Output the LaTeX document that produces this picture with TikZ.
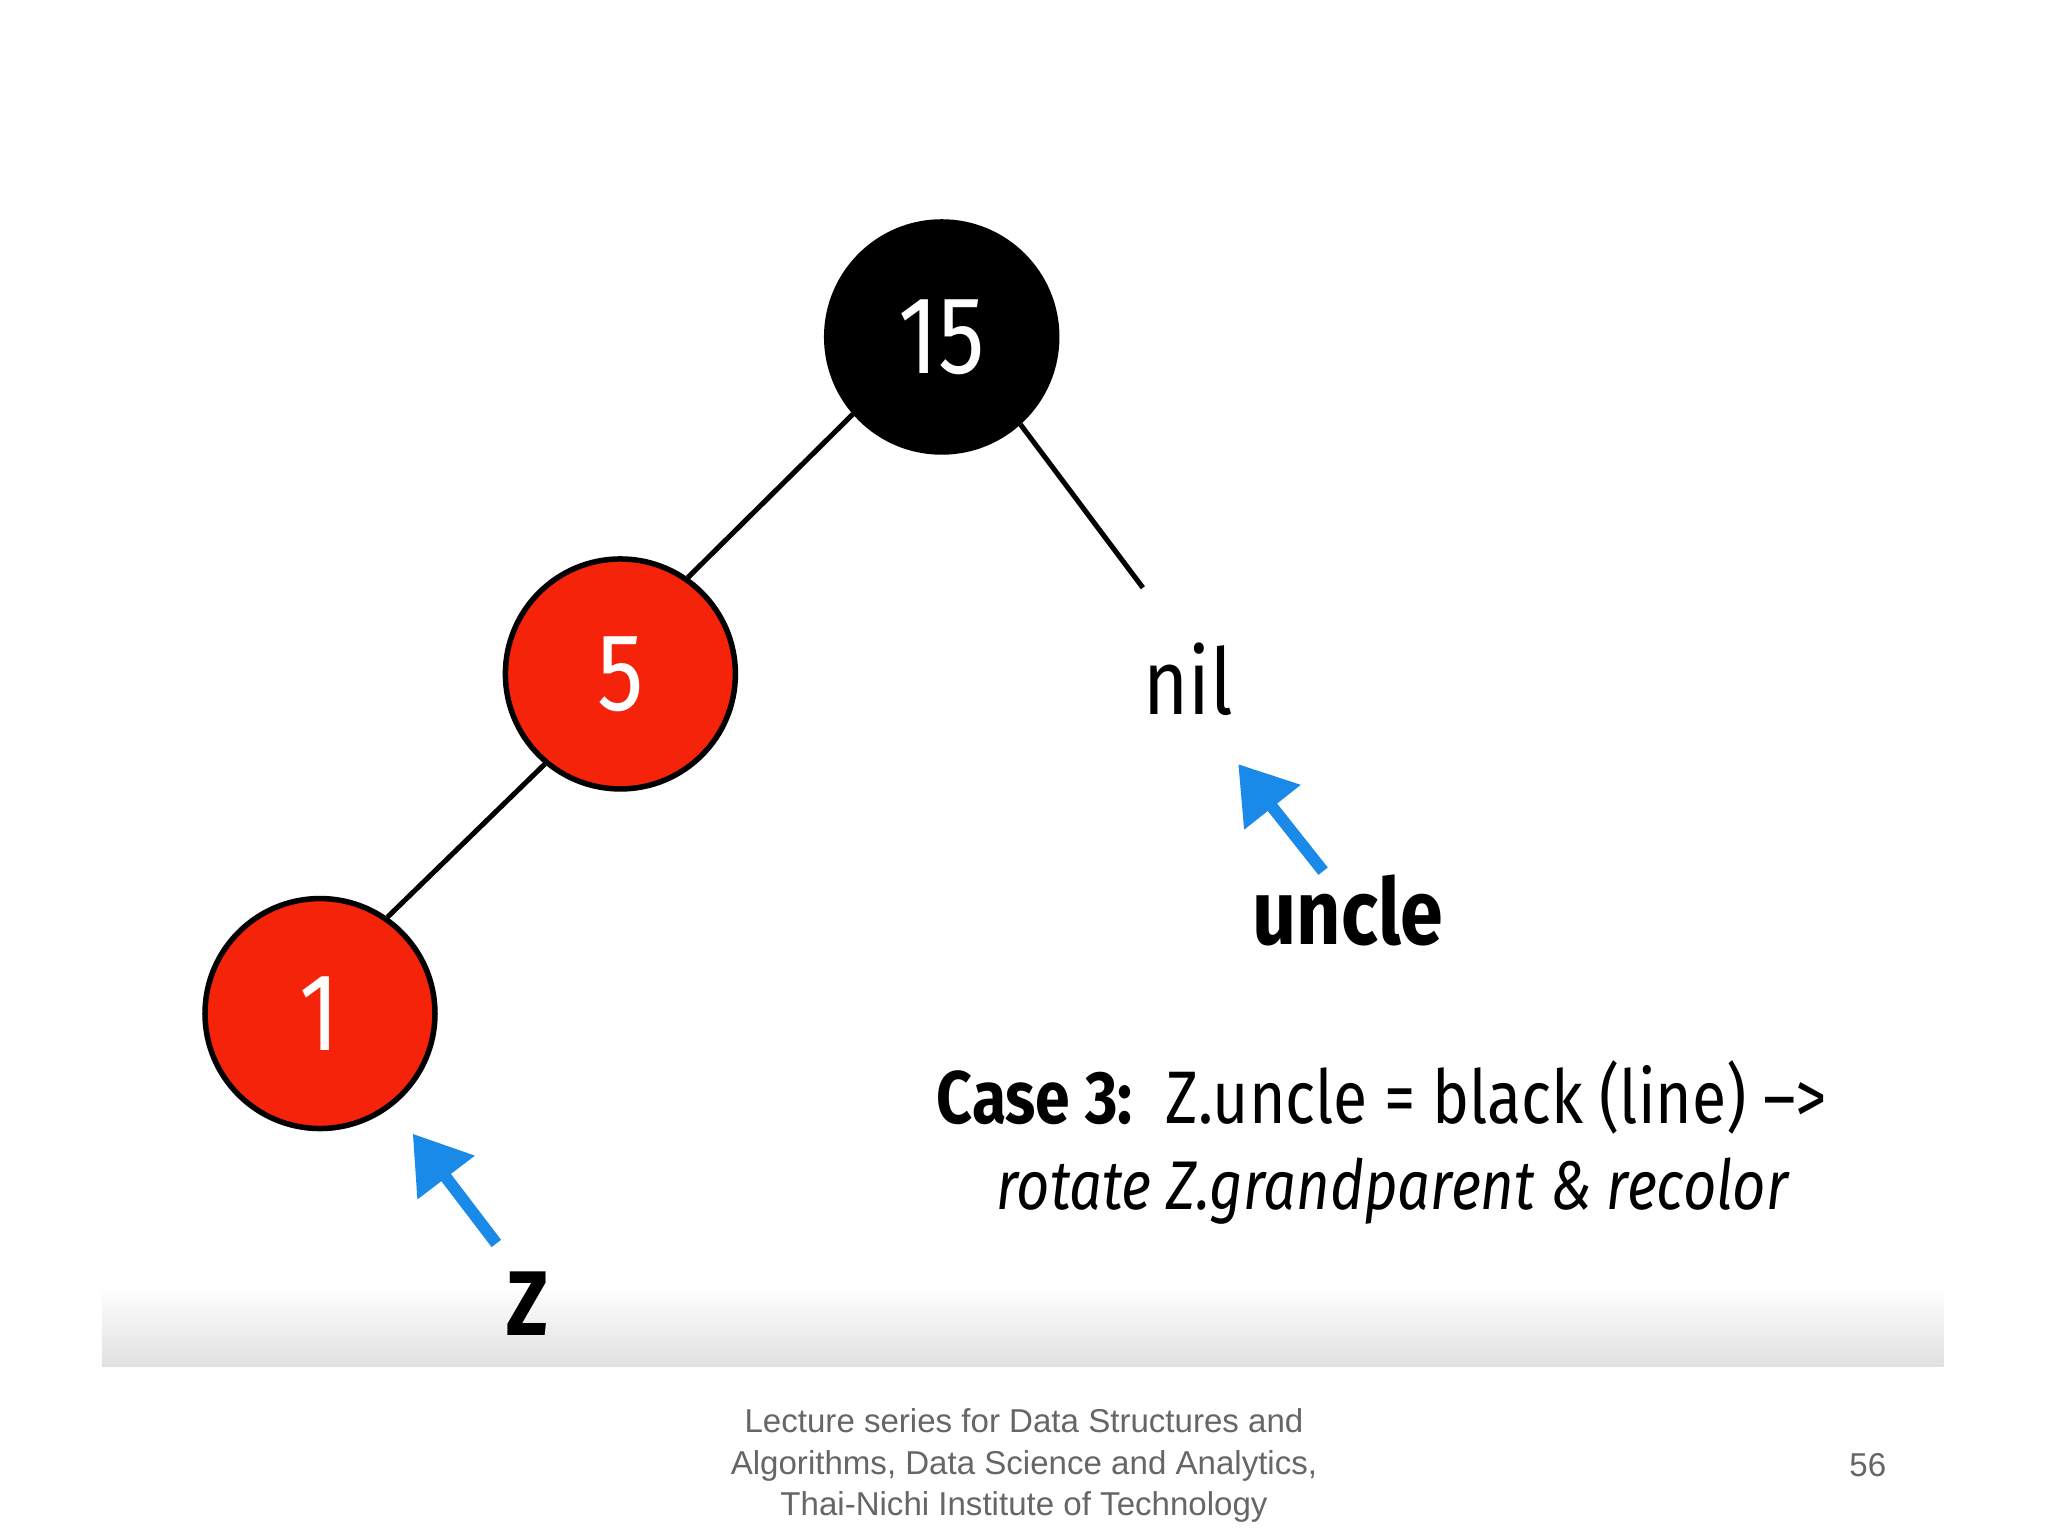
\documentclass[tikz,border=0pt]{standalone}
\usepackage{fontspec}
\setmainfont{Fira Sans}[FakeStretch=0.84]
\newfontfamily\foot{Liberation Sans}
\usetikzlibrary{arrows.meta}
\definecolor{rbred}{HTML}{F5230A}
\definecolor{arrblue}{HTML}{1A8AE8}
\begin{document}
\begin{tikzpicture}[x=0.01cm,y=-0.01cm,
  rb/.style={circle,draw=black,line width=1.2pt,minimum size=1.76cm,inner sep=0pt,text=white,font=\fontsize{24}{26}\selectfont},
  edge/.style={line width=1.1pt},
  pt/.style={draw=arrblue,line width=2.6pt,-{Triangle[length=12pt,width=15pt]}},
  lab/.style={font=\fontsize{20}{22}\selectfont\bfseries}]
\useasboundingbox (0,0) rectangle (1568,1176);
\shade[top color=white,bottom color=black!12] (78,985) rectangle (1488,1046);
\node[rb,fill=black] (n15) at (721,258) {15};
\node[rb,fill=rbred] (n5) at (475,516) {5};
\node[rb,fill=rbred] (n1) at (245,776) {1};
\coordinate (nilend) at (875,450);
\draw[edge] (n15.221) -- (n5.55);
\draw[edge] (n5.230) -- (n1.55);
\draw[edge] (n15.-48) -- (nilend);
\node[font=\fontsize{20}{22}\selectfont] (nil) at (910,520) {nil};
\node[lab] (uncle) at (1032,697) {uncle};
\node[lab] (z) at (404,998) {Z};
\coordinate (ua) at (1013,667); \coordinate (ub) at (948,585);
\coordinate (za) at (380,952); \coordinate (zb) at (316,868);
\draw[pt] (ua) -- (ub);
\draw[pt] (za) -- (zb);
\node[font=\fontsize{16.2}{17}\selectfont] (case) at (1058,840) {\textbf{Case 3:}\ \ Z.uncle = black (line) –>};
\node[font=\fontsize{15}{17}\selectfont\itshape] (rot) at (1066,912) {rotate Z.grandparent \& recolor};
\node[font=\foot\fontsize{7.2}{9}\selectfont,text=black!60,align=center] (ft) at (784,1122) {Lecture series for Data Structures and\\Algorithms, Data Science and Analytics,\\Thai-Nichi Institute of Technology};
\node[font=\foot\fontsize{7.2}{9}\selectfont,text=black!60] (pg) at (1430,1122) {56};
\end{tikzpicture}
\end{document}
